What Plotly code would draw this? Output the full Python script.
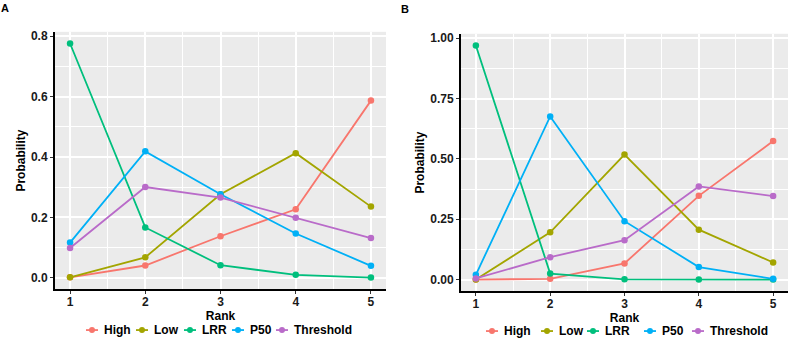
import plotly.graph_objects as go

W, H = 789, 340

# ---------------- data ----------------
ranks = [1, 2, 3, 4, 5]
series_names = ["High", "Low", "LRR", "P50", "Threshold"]

a_high = [0.002, 0.041, 0.138, 0.227, 0.587]
a_low = [0.002, 0.068, 0.277, 0.413, 0.236]
a_lrr = [0.776, 0.167, 0.042, 0.010, 0.001]
a_p50 = [0.117, 0.419, 0.277, 0.147, 0.040]
a_threshold = [0.099, 0.301, 0.266, 0.199, 0.132]

b_high = [0.000, 0.003, 0.067, 0.347, 0.574]
b_low = [0.000, 0.196, 0.518, 0.207, 0.071]
b_lrr = [0.970, 0.025, 0.001, 0.000, 0.000]
b_p50 = [0.020, 0.676, 0.242, 0.052, 0.003]
b_threshold = [0.005, 0.093, 0.163, 0.386, 0.346]

a_ticks = [0.0, 0.2, 0.4, 0.6, 0.8]
b_ticks = [0.0, 0.25, 0.5, 0.75, 1.0]

# ---------------- style ----------------
colors = ["#F8766D", "#A3A500", "#00BF7D", "#00B0F6", "#B96BC9"]
FONT = "Liberation Sans, Arial, sans-serif"
TXT = "#1a1a1a"


def px(x):
    return x / W


def py(y):
    return 1 - y / H


fig = go.Figure()

panels = [
    ("x", "y", [a_high, a_low, a_lrr, a_p50, a_threshold]),
    ("x2", "y2", [b_high, b_low, b_lrr, b_p50, b_threshold]),
]
for xa, ya, vals in panels:
    for name, v, c in zip(series_names, vals, colors):
        fig.add_trace(go.Scatter(
            x=ranks, y=v, mode="lines+markers", name=name,
            line=dict(color=c, width=1.8), marker=dict(color=c, size=6.5),
            xaxis=xa, yaxis=ya, showlegend=False, hoverinfo="x+y+name",
        ))


def ggrange(vals, mult=0.05):
    lo = min(min(v) for v in vals)
    hi = max(max(v) for v in vals)
    d = (hi - lo) * mult
    return [lo - d, hi + d]


a_range = ggrange(panels[0][2])
b_range = ggrange(panels[1][2])

common_x = dict(
    range=[0.8, 5.2], tickmode="array", tickvals=ranks,
    ticktext=[str(r) for r in ranks],
    showgrid=True, gridcolor="white", gridwidth=1.8,
    minor=dict(dtick=0.5, tick0=1, showgrid=True, gridcolor="white", gridwidth=0.9, ticks=""),
    showline=True, linecolor="black", linewidth=2,
    ticks="outside", ticklen=3, tickcolor="#333", tickwidth=1,
    ticklabelstandoff=-3,
    tickfont=dict(family=FONT, size=12, color=TXT, weight="bold"),
    title=dict(text="Rank", font=dict(family=FONT, size=12, color="black", weight="bold"), standoff=0),
    zeroline=False, fixedrange=True,
)
common_y = dict(
    showgrid=True, gridcolor="white", gridwidth=1.8,
    showline=True, linecolor="black", linewidth=2,
    ticks="outside", ticklen=3, tickcolor="#333", tickwidth=1,
    tickfont=dict(family=FONT, size=12, color=TXT, weight="bold"),
    title=dict(text="Probability", font=dict(family=FONT, size=12, color="black", weight="bold"), standoff=3),
    zeroline=False, fixedrange=True,
)

fig.update_layout(
    width=W, height=H,
    margin=dict(l=0, r=0, t=0, b=0),
    paper_bgcolor="white", plot_bgcolor="#EBEBEB",
    showlegend=False,
    xaxis=dict(common_x, domain=[px(55), px(386)], anchor="y"),
    yaxis=dict(common_y, domain=[py(289), py(30)], anchor="x", range=a_range,
               tickmode="array", tickvals=a_ticks, ticktext=[f"{t:.1f}" for t in a_ticks],
               minor=dict(tickvals=[0.1, 0.3, 0.5, 0.7], showgrid=True, gridcolor="white", gridwidth=0.9, ticks="")),
    xaxis2=dict(common_x, domain=[px(461), px(788)], anchor="y2"),
    yaxis2=dict(common_y, domain=[py(291), py(32)], anchor="x2", range=b_range,
                tickmode="array", tickvals=b_ticks, ticktext=[f"{t:.2f}" for t in b_ticks],
                minor=dict(tickvals=[0.125, 0.375, 0.625, 0.875], showgrid=True, gridcolor="white", gridwidth=0.9, ticks="")),
)

# panel labels
for lab, x0, y0 in [("A", 5, 6), ("B", 405, 7)]:
    fig.add_annotation(text=lab, x=px(x0), y=py(y0), xref="paper", yref="paper",
                       xanchor="center", yanchor="middle", showarrow=False,
                       font=dict(family=FONT, size=11, color="black", weight="bold"))

# compact ggplot-style legends (keys + real text)
legend_keys = [
    ([92, 142, 190, 238, 282], 330),
    ([492, 547, 593, 650, 698], 331),
]
for keys, ly in legend_keys:
    for name, c, kx in zip(series_names, colors, keys):
        fig.add_shape(type="line", xref="paper", yref="paper",
                      x0=px(kx - 6), x1=px(kx + 6), y0=py(ly), y1=py(ly),
                      line=dict(color=c, width=1.8))
        fig.add_shape(type="circle", xref="paper", yref="paper",
                      x0=px(kx - 3), x1=px(kx + 3), y0=py(ly - 3), y1=py(ly + 3),
                      fillcolor=c, line=dict(color=c, width=0))
        fig.add_annotation(text=name, x=px(kx + 10), y=py(ly), xref="paper", yref="paper",
                           xanchor="left", yanchor="middle", showarrow=False,
                           font=dict(family=FONT, size=12, color="black", weight="bold"))

fig.write_html(
    "out.html",
    config={"displayModeBar": False},
    post_script="document.body.style.margin='0';document.body.style.overflow='hidden';",
)
